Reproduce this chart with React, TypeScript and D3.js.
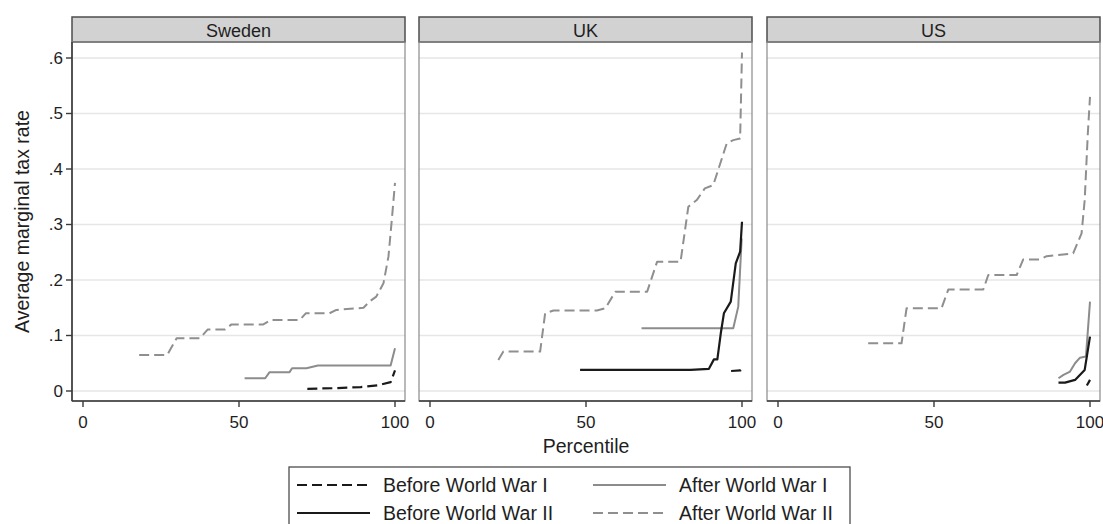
import React, { useRef, useEffect } from "react";
import * as d3 from "d3";

// Panels and series
const countries = ["Sweden", "UK", "US"];
const seriesNames = ["Before World War I", "After World War I", "Before World War II", "After World War II"];

// Sweden (percentile, average marginal tax rate)
const swedenBeforeWW1P = [71.9, 80.4, 89, 94.3, 98.6, 100];
const swedenBeforeWW1V = [0.004, 0.005, 0.007, 0.01, 0.016, 0.037];
const swedenAfterWW1P = [51.8, 58.4, 59.8, 66.2, 67, 71.6, 75.3, 98.6, 100];
const swedenAfterWW1V = [0.023, 0.023, 0.034, 0.034, 0.041, 0.041, 0.046, 0.046, 0.077];
const swedenBeforeWW2P: number[] = [];
const swedenBeforeWW2V: number[] = [];
const swedenAfterWW2P = [18, 27, 30, 37.5, 40, 45.5, 47.6, 57.8, 60.3, 69.5, 71.4, 79, 81.2, 89.9, 92, 94, 96.3, 97.9, 99, 100];
const swedenAfterWW2V = [0.065, 0.065, 0.095, 0.095, 0.111, 0.111, 0.12, 0.12, 0.128, 0.128, 0.14, 0.14, 0.146, 0.15, 0.162, 0.17, 0.194, 0.242, 0.31, 0.375];

// UK
const ukBeforeWW1P = [96.5, 99.5, 100];
const ukBeforeWW1V = [0.036, 0.037, 0.04];
const ukAfterWW1P = [67.8, 97.2, 98.8, 99.9];
const ukAfterWW1V = [0.113, 0.113, 0.152, 0.275];
const ukBeforeWW2P = [48.1, 83.5, 89.4, 91, 92.1, 93.2, 94.2, 96.4, 98, 99.4, 100];
const ukBeforeWW2V = [0.038, 0.038, 0.04, 0.057, 0.057, 0.104, 0.14, 0.161, 0.23, 0.251, 0.305];
const ukAfterWW2P = [21.9, 23.5, 35.3, 36.9, 39.6, 53.5, 56.2, 59.4, 69.6, 72.8, 80.3, 82.8, 85.5, 88.1, 90.8, 95.1, 97.2, 99.4, 100];
const ukAfterWW2V = [0.056, 0.071, 0.071, 0.14, 0.145, 0.145, 0.149, 0.179, 0.179, 0.233, 0.233, 0.332, 0.344, 0.365, 0.371, 0.446, 0.452, 0.455, 0.61];

// US
const usBeforeWW1P = [99, 100];
const usBeforeWW1V = [0.01, 0.02];
const usAfterWW1P = [89.9, 91.5, 93.6, 95.2, 96.8, 98.7, 100];
const usAfterWW1V = [0.023, 0.029, 0.035, 0.05, 0.06, 0.062, 0.161];
const usBeforeWW2P = [89.9, 92, 95.2, 98.3, 100];
const usBeforeWW2V = [0.015, 0.015, 0.02, 0.038, 0.098];
const usAfterWW2P = [28.9, 39.6, 41.2, 52.4, 54.6, 65.8, 67.4, 76.5, 78.6, 83.9, 86.1, 94.6, 97.3, 98.3, 99.3, 100];
const usAfterWW2V = [0.086, 0.086, 0.149, 0.149, 0.183, 0.183, 0.209, 0.209, 0.237, 0.237, 0.243, 0.248, 0.284, 0.344, 0.464, 0.53];

const xTicks = [0, 50, 100];
const yTicks = [0, 0.1, 0.2, 0.3, 0.4, 0.5, 0.6];
const yTickLabels = ["0", ".1", ".2", ".3", ".4", ".5", ".6"];

const zip = (p: number[], v: number[]) => p.map((d, i) => ({ p: d, v: v[i] }));

const panelData = [
  [zip(swedenBeforeWW1P, swedenBeforeWW1V), zip(swedenAfterWW1P, swedenAfterWW1V), zip(swedenBeforeWW2P, swedenBeforeWW2V), zip(swedenAfterWW2P, swedenAfterWW2V)],
  [zip(ukBeforeWW1P, ukBeforeWW1V), zip(ukAfterWW1P, ukAfterWW1V), zip(ukBeforeWW2P, ukBeforeWW2V), zip(ukAfterWW2P, ukAfterWW2V)],
  [zip(usBeforeWW1P, usBeforeWW1V), zip(usAfterWW1P, usAfterWW1V), zip(usBeforeWW2P, usBeforeWW2V), zip(usAfterWW2P, usAfterWW2V)],
];

// style per series: Before WWI, After WWI, Before WWII, After WWII
const styles = [
  { color: "#1a1a1a", dash: "10,5", width: 2.2 },
  { color: "#8c8c8c", dash: null, width: 2 },
  { color: "#1a1a1a", dash: null, width: 2.2 },
  { color: "#8f8f8f", dash: "10,5", width: 2 },
];

const FONT = "'Liberation Sans', Arial, sans-serif";
const TEXT = "#1e1e1e";

export default function App() {
  const svgRef = useRef<SVGSVGElement>(null);

  useEffect(() => {
    const svg = d3.select(svgRef.current);
    svg.selectAll("*").remove();

    const width = 1103;
    const height = 524;
    const panelLefts = [72, 419, 767];
    const panelW = 333;
    const stripTop = 17;
    const plotTop = 42;
    const plotBottom = 401;

    svg.attr("width", width).attr("height", height);
    svg.append("rect").attr("width", width).attr("height", height).attr("fill", "#fff");

    const y = d3.scaleLinear().domain([0, 0.6]).range([391, 58]);

    countries.forEach((name, ci) => {
      const left = panelLefts[ci];
      const x = d3.scaleLinear().domain([0, 100]).range([left + 11, left + 323]);
      const g = svg.append("g");

      // strip
      g.append("rect")
        .attr("x", left).attr("y", stripTop)
        .attr("width", panelW).attr("height", plotTop - stripTop)
        .attr("fill", "#d2d2d2").attr("stroke", "#4d4d4d").attr("stroke-width", 1.5);
      g.append("text")
        .attr("x", left + panelW / 2).attr("y", (stripTop + plotTop) / 2 + 1)
        .attr("text-anchor", "middle").attr("dominant-baseline", "central")
        .attr("font-family", FONT).attr("font-size", 18).attr("fill", TEXT)
        .text(name);

      // gridlines
      g.selectAll("line.grid").data(yTicks).join("line")
        .attr("class", "grid")
        .attr("x1", left).attr("x2", left + panelW)
        .attr("y1", (d) => y(d)).attr("y2", (d) => y(d))
        .attr("stroke", "#e6e6e6").attr("stroke-width", 1.5);

      // frame
      g.append("rect")
        .attr("x", left).attr("y", plotTop)
        .attr("width", panelW).attr("height", plotBottom - plotTop)
        .attr("fill", "none").attr("stroke", "#8a8a8a").attr("stroke-width", 1.2);

      // bottom axis
      g.append("line")
        .attr("x1", left).attr("x2", left + panelW)
        .attr("y1", plotBottom).attr("y2", plotBottom)
        .attr("stroke", "#3a3a3a").attr("stroke-width", 1.6);
      g.selectAll("line.xt").data(xTicks).join("line")
        .attr("class", "xt")
        .attr("x1", (d) => x(d)).attr("x2", (d) => x(d))
        .attr("y1", plotBottom).attr("y2", plotBottom + 6)
        .attr("stroke", "#3a3a3a").attr("stroke-width", 1.4);
      g.selectAll("text.xl").data(xTicks).join("text")
        .attr("class", "xl")
        .attr("x", (d) => x(d)).attr("y", 422)
        .attr("text-anchor", "middle").attr("dominant-baseline", "central")
        .attr("font-family", FONT).attr("font-size", 17).attr("fill", TEXT)
        .text((d) => String(d));

      if (ci === 0) {
        g.append("line")
          .attr("x1", left).attr("x2", left)
          .attr("y1", plotTop).attr("y2", plotBottom)
          .attr("stroke", "#3a3a3a").attr("stroke-width", 1.6);
        g.selectAll("line.yt").data(yTicks).join("line")
          .attr("class", "yt")
          .attr("x1", left - 6).attr("x2", left)
          .attr("y1", (d) => y(d)).attr("y2", (d) => y(d))
          .attr("stroke", "#3a3a3a").attr("stroke-width", 1.4);
        g.selectAll("text.yl").data(yTicks).join("text")
          .attr("class", "yl")
          .attr("x", left - 9).attr("y", (d) => y(d))
          .attr("text-anchor", "end").attr("dominant-baseline", "central")
          .attr("font-family", FONT).attr("font-size", 17).attr("fill", TEXT)
          .text((d, i) => yTickLabels[i]);
      }

      const line = d3.line<{ p: number; v: number }>()
        .x((d) => x(d.p))
        .y((d) => y(d.v));

      panelData[ci].forEach((rows, si) => {
        if (!rows.length) return;
        const s = styles[si];
        g.append("path")
          .datum(rows)
          .attr("fill", "none")
          .attr("stroke", s.color)
          .attr("stroke-width", s.width)
          .attr("stroke-dasharray", s.dash)
          .attr("stroke-linejoin", "round")
          .attr("d", line);
      });
    });

    // axis titles
    svg.append("text")
      .attr("transform", `translate(22,${(plotTop + plotBottom) / 2}) rotate(-90)`)
      .attr("text-anchor", "middle").attr("dominant-baseline", "central")
      .attr("font-family", FONT).attr("font-size", 19.5).attr("fill", TEXT)
      .text("Average marginal tax rate");
    svg.append("text")
      .attr("x", 586).attr("y", 446)
      .attr("text-anchor", "middle").attr("dominant-baseline", "central")
      .attr("font-family", FONT).attr("font-size", 19.5).attr("fill", TEXT)
      .text("Percentile");

    // legend
    const lg = svg.append("g");
    lg.append("rect")
      .attr("x", 289).attr("y", 467).attr("width", 561).attr("height", 70)
      .attr("fill", "#fff").attr("stroke", "#4d4d4d").attr("stroke-width", 1.3);
    const legendPos = [
      { x: 297, y: 485 },
      { x: 593, y: 485 },
      { x: 297, y: 513 },
      { x: 593, y: 513 },
    ];
    seriesNames.forEach((name, si) => {
      const s = styles[si];
      const pos = legendPos[si];
      lg.append("line")
        .attr("x1", pos.x).attr("x2", pos.x + 73)
        .attr("y1", pos.y).attr("y2", pos.y)
        .attr("stroke", s.color).attr("stroke-width", s.width)
        .attr("stroke-dasharray", s.dash);
      lg.append("text")
        .attr("x", pos.x + 86).attr("y", pos.y)
        .attr("dominant-baseline", "central")
        .attr("font-family", FONT).attr("font-size", 19.5).attr("fill", TEXT)
        .text(name);
    });
  }, []);

  return (
    <div style={{ position: "absolute", left: 0, top: 0 }}>
      <svg ref={svgRef} style={{ display: "block" }} />
    </div>
  );
}
